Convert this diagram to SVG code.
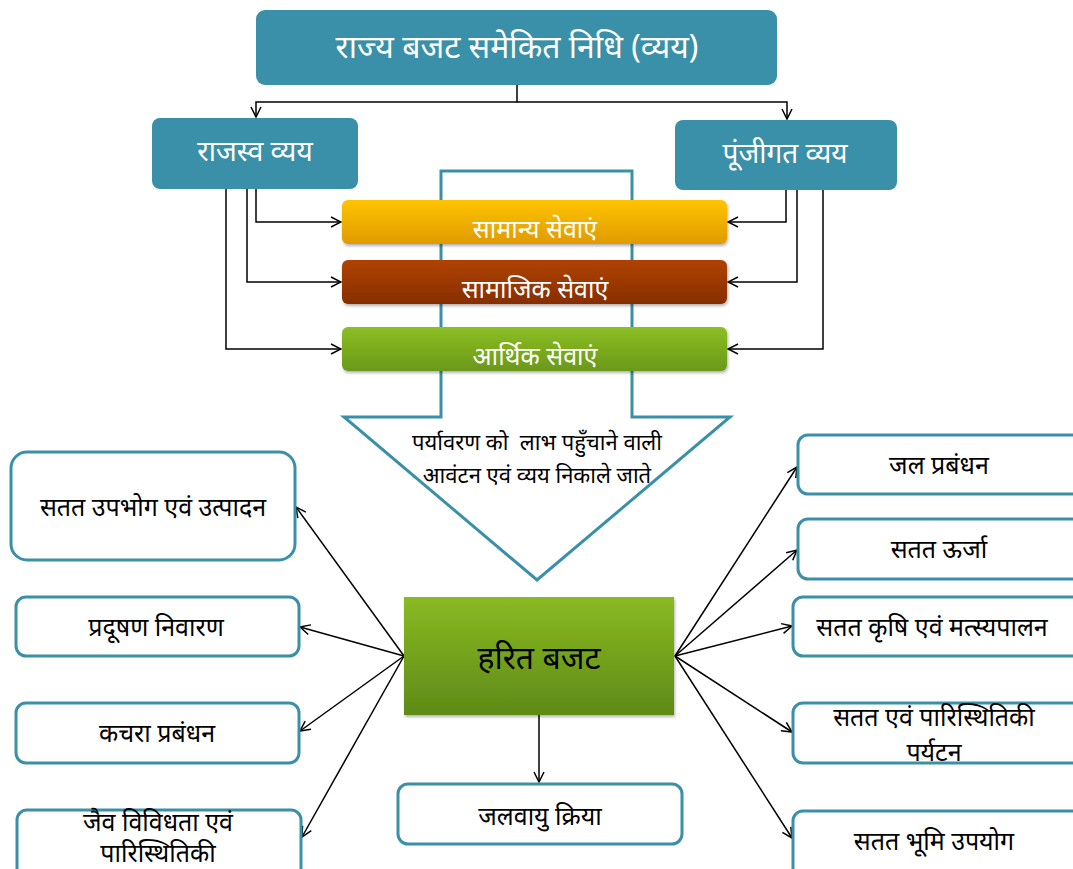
<svg xmlns="http://www.w3.org/2000/svg" width="1073" height="869" viewBox="0 0 1073 869">
<style>
text{font-family:"Noto Sans","Noto Sans Devanagari","Lohit Devanagari",sans-serif;text-anchor:middle;dominant-baseline:central}
.tl{fill:#fff}
.bk{fill:#000}
.hd{fill:#3a90a8}
.ob{fill:#fff;stroke:#3a90a8;stroke-width:3}
.cn{fill:none;stroke:#000;stroke-width:1.5}
.bx{font-size:25px}
</style>
<defs>
<marker id="ah" viewBox="0 0 12 12" refX="11" refY="6" markerWidth="12" markerHeight="12" markerUnits="userSpaceOnUse" orient="auto">
<path d="M1,1 L11,6 L1,11" fill="none" stroke="#000" stroke-width="1.5"/>
</marker>
<linearGradient id="gO" x1="0" y1="0" x2="0" y2="1"><stop offset="0" stop-color="#ffc400"/><stop offset="1" stop-color="#e09a00"/></linearGradient>
<linearGradient id="gB" x1="0" y1="0" x2="0" y2="1"><stop offset="0" stop-color="#b04200"/><stop offset="1" stop-color="#862e00"/></linearGradient>
<linearGradient id="gG" x1="0" y1="0" x2="0" y2="1"><stop offset="0" stop-color="#8cbf22"/><stop offset="1" stop-color="#6a981a"/></linearGradient>
<linearGradient id="gH" x1="0" y1="0" x2="0" y2="1"><stop offset="0" stop-color="#8aba22"/><stop offset="1" stop-color="#5e8a18"/></linearGradient>
<filter id="sh" x="-5%" y="-10%" width="110%" height="130%"><feDropShadow dx="1" dy="2" stdDeviation="1.5" flood-color="#000" flood-opacity="0.3"/></filter>
</defs>

<g id="bigarrow">
<path d="M441,171 L632,171 L632,417 L730,417 L537,580 L344,417 L441,417 Z" fill="#fff" stroke="#3a90a8" stroke-width="3"/>
<text class="bk" x="537" y="441" font-size="22" style="white-space:pre">पर्यावरण को  लाभ पहुँचाने वाली</text>
<text class="bk" x="537" y="474" font-size="22">आवंटन एवं व्यय निकाले जाते</text>
</g>

<g id="connectors">
<path class="cn" d="M517,85 V102 H256 V117" marker-end="url(#ah)"/>
<path class="cn" d="M517,102 H787 V119" marker-end="url(#ah)"/>
<path class="cn" d="M256,189 V222 H341" marker-end="url(#ah)"/>
<path class="cn" d="M247,189 V282 H341" marker-end="url(#ah)"/>
<path class="cn" d="M226,189 V349 H341" marker-end="url(#ah)"/>
<path class="cn" d="M786,190 V222 H728" marker-end="url(#ah)"/>
<path class="cn" d="M797,190 V282 H728" marker-end="url(#ah)"/>
<path class="cn" d="M823,190 V349 H728" marker-end="url(#ah)"/>
<path class="cn" d="M404,656 L296,507" marker-end="url(#ah)"/>
<path class="cn" d="M404,656 L300,627" marker-end="url(#ah)"/>
<path class="cn" d="M404,656 L300,731" marker-end="url(#ah)"/>
<path class="cn" d="M404,656 L302,837" marker-end="url(#ah)"/>
<path class="cn" d="M539,715 V782" marker-end="url(#ah)"/>
<path class="cn" d="M675,656 L797,467" marker-end="url(#ah)"/>
<path class="cn" d="M675,656 L797,550" marker-end="url(#ah)"/>
<path class="cn" d="M675,656 L792,626" marker-end="url(#ah)"/>
<path class="cn" d="M675,656 L792,732" marker-end="url(#ah)"/>
<path class="cn" d="M675,656 L792,838" marker-end="url(#ah)"/>
</g>

<g id="top">
<rect class="hd" x="256" y="10" width="521" height="75" rx="9"/>
<text class="tl" x="517" y="45" font-size="32">राज्य बजट समेकित निधि (व्यय)</text>
</g>
<g id="revenue">
<rect class="hd" x="152" y="118" width="206" height="71" rx="8"/>
<text class="tl" x="255" y="150" font-size="28">राजस्व व्यय</text>
</g>
<g id="capital">
<rect class="hd" x="675" y="120" width="222" height="70" rx="8"/>
<text class="tl" x="785" y="152" font-size="28">पूंजीगत व्यय</text>
</g>

<g id="general">
<rect x="342" y="200" width="385" height="44" rx="6" fill="url(#gO)" filter="url(#sh)"/>
<text class="tl" x="535" y="228" font-size="25">सामान्य सेवाएं</text>
</g>
<g id="social">
<rect x="342" y="260" width="385" height="44" rx="6" fill="url(#gB)" filter="url(#sh)"/>
<text class="tl" x="535" y="288" font-size="25">सामाजिक सेवाएं</text>
</g>
<g id="economic">
<rect x="342" y="327" width="385" height="44" rx="6" fill="url(#gG)" filter="url(#sh)"/>
<text class="tl" x="535" y="355" font-size="25">आर्थिक सेवाएं</text>
</g>

<g id="green">
<rect x="404" y="597" width="270" height="118" fill="url(#gH)" filter="url(#sh)"/>
<text class="bk" x="539" y="656" font-size="32">हरित बजट</text>
</g>

<g id="l1">
<rect class="ob" x="11" y="452" width="284" height="108" rx="16"/>
<text class="bk bx" x="153" y="506">सतत उपभोग एवं उत्पादन</text>
</g>
<g id="l2">
<rect class="ob" x="16" y="597" width="283" height="59" rx="10"/>
<text class="bk bx" x="156" y="626">प्रदूषण निवारण</text>
</g>
<g id="l3">
<rect class="ob" x="16" y="703" width="283" height="60" rx="10"/>
<text class="bk bx" x="157" y="732">कचरा प्रबंधन</text>
</g>
<g id="l4">
<rect class="ob" x="17" y="810" width="284" height="70" rx="10"/>
<text class="bk bx" x="158" y="821">जैव विविधता एवं</text>
<text class="bk bx" x="158" y="852">पारिस्थितिकी</text>
</g>

<g id="bottom">
<rect class="ob" x="398" y="784" width="284" height="60" rx="10"/>
<text class="bk bx" x="540" y="815">जलवायु क्रिया</text>
</g>

<g id="r1">
<rect class="ob" x="798" y="435" width="290" height="59" rx="10"/>
<text class="bk bx" x="939" y="464">जल प्रबंधन</text>
</g>
<g id="r2">
<rect class="ob" x="798" y="519" width="290" height="60" rx="10"/>
<text class="bk bx" x="939" y="548">सतत ऊर्जा</text>
</g>
<g id="r3">
<rect class="ob" x="793" y="597" width="290" height="59" rx="10"/>
<text class="bk bx" x="932" y="626">सतत कृषि एवं मत्स्यपालन</text>
</g>
<g id="r4">
<rect class="ob" x="793" y="703" width="290" height="60" rx="10"/>
<text class="bk bx" x="934" y="716">सतत एवं पारिस्थितिकी</text>
<text class="bk bx" x="934" y="751">पर्यटन</text>
</g>
<g id="r5">
<rect class="ob" x="793" y="811" width="290" height="70" rx="10"/>
<text class="bk bx" x="934" y="840">सतत भूमि उपयोग</text>
</g>
</svg>
